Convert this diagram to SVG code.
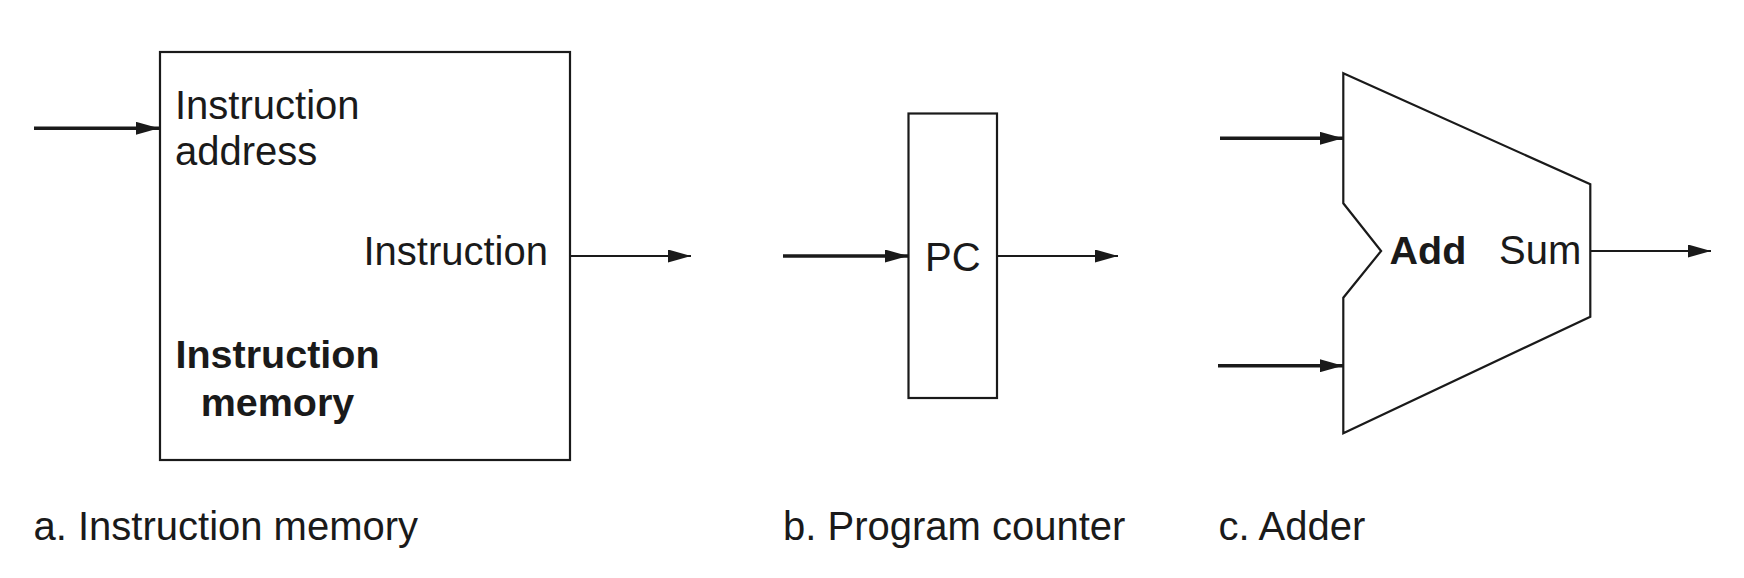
<svg xmlns="http://www.w3.org/2000/svg" width="1744" height="578" viewBox="0 0 1744 578">
<style>
.shape{fill:#fff;stroke:#1a1a1a;stroke-width:2.2}
.t{font-family:"Liberation Sans",Arial,sans-serif;font-size:40px;fill:#1a1a1a}
.b{font-weight:bold;font-size:39.5px}
.thick{stroke:#1a1a1a;stroke-width:3.5;fill:none}
.thin{stroke:#1a1a1a;stroke-width:2;fill:none}
</style>
<defs>
<marker id="ah" markerUnits="userSpaceOnUse" markerWidth="23" markerHeight="13" refX="23" refY="6.5" orient="auto">
<path d="M0,0 L23,6.5 L0,13 z" fill="#1a1a1a"/>
</marker>
</defs>
<rect width="1744" height="578" fill="#fff"/>
<g id="imem">
<rect class="shape" x="160" y="52" width="410" height="408"/>
<text class="t" x="175" y="119">Instruction</text>
<text class="t" x="175" y="165">address</text>
<text class="t" x="548" y="265" text-anchor="end">Instruction</text>
<text class="t b" x="277.5" y="368" text-anchor="middle">Instruction</text>
<text class="t b" x="277.5" y="416" text-anchor="middle">memory</text>
</g>
<g id="pc">
<rect class="shape" x="908.5" y="113.5" width="88.5" height="284.5"/>
<text class="t" x="952.8" y="271" text-anchor="middle">PC</text>
</g>
<g id="adder">
<path class="shape" d="M1343.3,73.3 L1590.3,184.3 L1590.3,316.7 L1343.3,433.3 L1343.3,297.7 L1381.1,251 L1343.3,203.3 Z"/>
<text class="t b" x="1389.5" y="263.5">Add</text>
<text class="t" x="1499" y="263.5">Sum</text>
</g>
<g id="connectors">
<line class="thick" x1="34" y1="128.3" x2="159" y2="128.3" marker-end="url(#ah)"/>
<line class="thin" x1="570" y1="256" x2="691" y2="256" marker-end="url(#ah)"/>
<line class="thick" x1="783" y1="256" x2="908" y2="256" marker-end="url(#ah)"/>
<line class="thin" x1="997" y1="256" x2="1118" y2="256" marker-end="url(#ah)"/>
<line class="thick" x1="1220" y1="138.3" x2="1343" y2="138.3" marker-end="url(#ah)"/>
<line class="thick" x1="1218" y1="365.7" x2="1343" y2="365.7" marker-end="url(#ah)"/>
<line class="thin" x1="1590" y1="251" x2="1711" y2="251" marker-end="url(#ah)"/>
</g>
<g id="captions">
<text class="t" x="33.5" y="539.5">a. Instruction memory</text>
<text class="t" x="783" y="539.5">b. Program counter</text>
<text class="t" x="1218.5" y="539.5">c. Adder</text>
</g>
</svg>
